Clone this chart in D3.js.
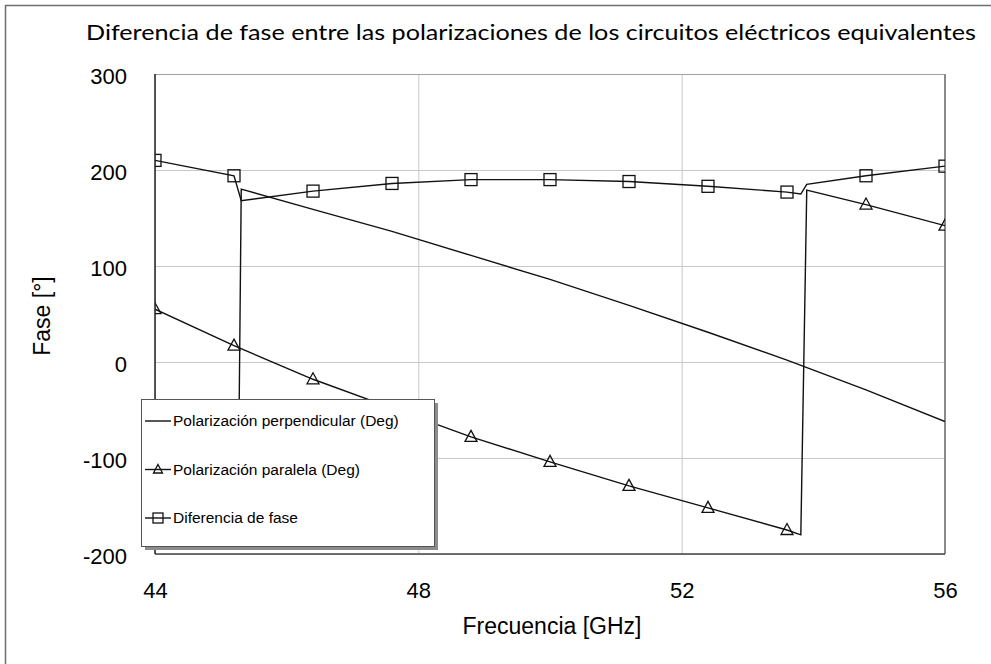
<!DOCTYPE html>
<html>
<head>
<meta charset="utf-8">
<script src="https://cdn.jsdelivr.net/npm/d3@7/dist/d3.min.js"></script>
<style>
  body { margin: 0; background: #fff; }
  svg { display: block; }
  text { font-family: "Liberation Sans", Arial, sans-serif; fill: #000; }
</style>
</head>
<body>
<div id="chart"></div>
<script>
// frequency points (GHz) and phase values (deg)
var perpFreq = [44, 45.2, 45.26, 45.31, 46.4, 47.6, 48.8, 50, 51.2, 52.4, 53.6, 54.8, 56];
var perpVals = [-155, -177, -180, 180, 159, 136, 111, 86, 59, 31, 2, -29, -62];

var parFreq = [44, 45.2, 46.4, 47.6, 48.8, 50, 51.2, 52.4, 53.6, 53.81, 53.9, 54.8, 56];
var parVals = [55, 17, -18, -48, -78, -104, -129, -152, -175, -180, 179, 164, 142];

var difFreq = [44, 45.2, 45.31, 46.4, 47.6, 48.8, 50, 51.2, 52.4, 53.6, 53.81, 53.9, 54.8, 56];
var difVals = [210, 194, 168, 178, 186, 190, 190, 188, 183, 177, 175, 185, 194, 204];

// where the symbols sit
var markerFreq = [44, 45.2, 46.4, 47.6, 48.8, 50, 51.2, 52.4, 53.6, 54.8, 56];

var xTicks = [44, 48, 52, 56];
var yTicks = [-200, -100, 0, 100, 200, 300];

var legendLabels = ["Polarización perpendicular (Deg)", "Polarización paralela (Deg)", "Diferencia de fase"];

var width = 991, height = 664;
var margin = {left: 155, right: 46, top: 74, bottom: 110};
var pw = width - margin.left - margin.right,
    ph = height - margin.top - margin.bottom;

var svg = d3.select("#chart").append("svg")
  .attr("width", width)
  .attr("height", height);

// outer frame (only top + left show)
svg.append("path")
  .attr("d", "M5.5,664V5.5H991")
  .attr("fill", "none")
  .attr("stroke", "#6e6e6e")
  .attr("stroke-width", 1.5);

var x = d3.scaleLinear().domain([44, 56]).range([0, pw]);
var y = d3.scaleLinear().domain([-200, 300]).range([ph, 0]);

var g = svg.append("g").attr("transform", "translate(" + margin.left + "," + margin.top + ")");

g.append("clipPath").attr("id", "clip")
  .append("rect").attr("width", pw).attr("height", ph);

// grid
g.append("g")
  .attr("class", "grid")
  .call(d3.axisLeft(y).tickValues(yTicks).tickSize(-pw).tickFormat(""))
  .call(function(s) { s.select(".domain").remove(); })
  .selectAll("line").attr("stroke", "#c8c8c8");

g.append("g")
  .attr("class", "grid")
  .attr("transform", "translate(0," + ph + ")")
  .call(d3.axisBottom(x).tickValues(xTicks).tickSize(-ph).tickFormat(""))
  .call(function(s) { s.select(".domain").remove(); })
  .selectAll("line").attr("stroke", "#c8c8c8");

// plot frame
g.append("line").attr("x1", 0).attr("x2", pw).attr("y1", 0.5).attr("y2", 0.5).attr("stroke", "#a0a0a0");
g.append("line").attr("x1", pw).attr("x2", pw).attr("y1", 0).attr("y2", ph).attr("stroke", "#8a8a8a").attr("stroke-width", 2);
g.append("line").attr("x1", 0).attr("x2", pw).attr("y1", ph).attr("y2", ph).attr("stroke", "#444").attr("stroke-width", 1.5);

// tick labels (plain hyphen for negatives, like the original)
var fmt = function(d) { return String(d); };

var xAxis = g.append("g")
  .attr("transform", "translate(0," + ph + ")")
  .call(d3.axisBottom(x).tickValues(xTicks).tickSize(0).tickPadding(28).tickFormat(fmt));
xAxis.select(".domain").remove();
xAxis.selectAll("text").style("font-size", "22px").attr("fill", "#000");

var yAxis = g.append("g")
  .call(d3.axisLeft(y).tickValues(yTicks).tickSize(0).tickPadding(28).tickFormat(fmt));
yAxis.select(".domain").remove();
yAxis.selectAll("text").style("font-size", "22px").attr("fill", "#000").attr("dy", "0.45em");

// series
var series = [
  {freq: perpFreq, vals: perpVals, marker: null},
  {freq: parFreq, vals: parVals, marker: "tri"},
  {freq: difFreq, vals: difVals, marker: "sq"}
];

var line = d3.line()
  .x(function(d) { return x(d[0]); })
  .y(function(d) { return y(d[1]); });

var plot = g.append("g").attr("clip-path", "url(#clip)");

function drawMarker(sel, type) {
  if (type === "tri") {
    sel.append("path").attr("d", "M0,-6.5L6,4.5L-6,4.5Z");
  } else if (type === "sq") {
    sel.append("rect").attr("x", -6).attr("y", -6).attr("width", 12).attr("height", 12);
  }
  sel.attr("fill", "none").attr("stroke", "#111").attr("stroke-width", 1.3);
}

series.forEach(function(s) {
  var pts = s.freq.map(function(f, i) { return [f, s.vals[i]]; });
  plot.append("path")
    .datum(pts)
    .attr("fill", "none")
    .attr("stroke", "#111")
    .attr("stroke-width", 1.4)
    .attr("d", line);
  if (s.marker) {
    var mk = pts.filter(function(p) { return markerFreq.indexOf(p[0]) >= 0; });
    plot.selectAll(null).data(mk).enter().append("g")
      .attr("transform", function(d) { return "translate(" + x(d[0]) + "," + y(d[1]) + ")"; })
      .each(function() { drawMarker(d3.select(this), s.marker); });
  }
});

// left axis line on top
g.append("line").attr("x1", 0).attr("x2", 0).attr("y1", 0).attr("y2", ph).attr("stroke", "#222").attr("stroke-width", 1.5);

// axis titles
svg.append("text")
  .attr("x", 552).attr("y", 634)
  .attr("text-anchor", "middle")
  .style("font-size", "23px")
  .text("Frecuencia [GHz]");

svg.append("text")
  .attr("transform", "translate(50,316) rotate(-90)")
  .attr("text-anchor", "middle")
  .style("font-size", "23px")
  .text("Fase [°]");

// title
svg.append("text")
  .attr("x", 86).attr("y", 40)
  .attr("textLength", 890)
  .attr("lengthAdjust", "spacingAndGlyphs")
  .style("font-family", "Lato, 'Open Sans', sans-serif")
  .style("font-size", "22px")
  .text("Diferencia de fase entre las polarizaciones de los circuitos eléctricos equivalentes");

// legend
var leg = svg.append("g").attr("transform", "translate(141,399)");
leg.append("rect").attr("x", 4).attr("y", 4).attr("width", 293).attr("height", 147).attr("fill", "#8c8c8c");
leg.append("rect").attr("x", 0.5).attr("y", 0.5).attr("width", 293).attr("height", 147)
  .attr("fill", "#fff").attr("stroke", "#555");

var legMarkers = [null, "tri", "sq"];
legendLabels.forEach(function(lbl, i) {
  var row = leg.append("g").attr("transform", "translate(0," + (22 + i * 48.5) + ")");
  row.append("line").attr("x1", 4).attr("x2", 30).attr("stroke", "#111").attr("stroke-width", 1.4);
  if (legMarkers[i]) {
    var m = row.append("g").attr("transform", "translate(17,0)");
    drawMarker(m, legMarkers[i]);
    m.select("path").attr("d", "M0,-5L4.5,3.5L-4.5,3.5Z");
    m.select("rect").attr("x", -5).attr("y", -5).attr("width", 10).attr("height", 10);
  }
  row.append("text").attr("x", 32).attr("y", 5)
    .style("font-size", "15.5px")
    .text(lbl);
});
</script>
</body>
</html>
